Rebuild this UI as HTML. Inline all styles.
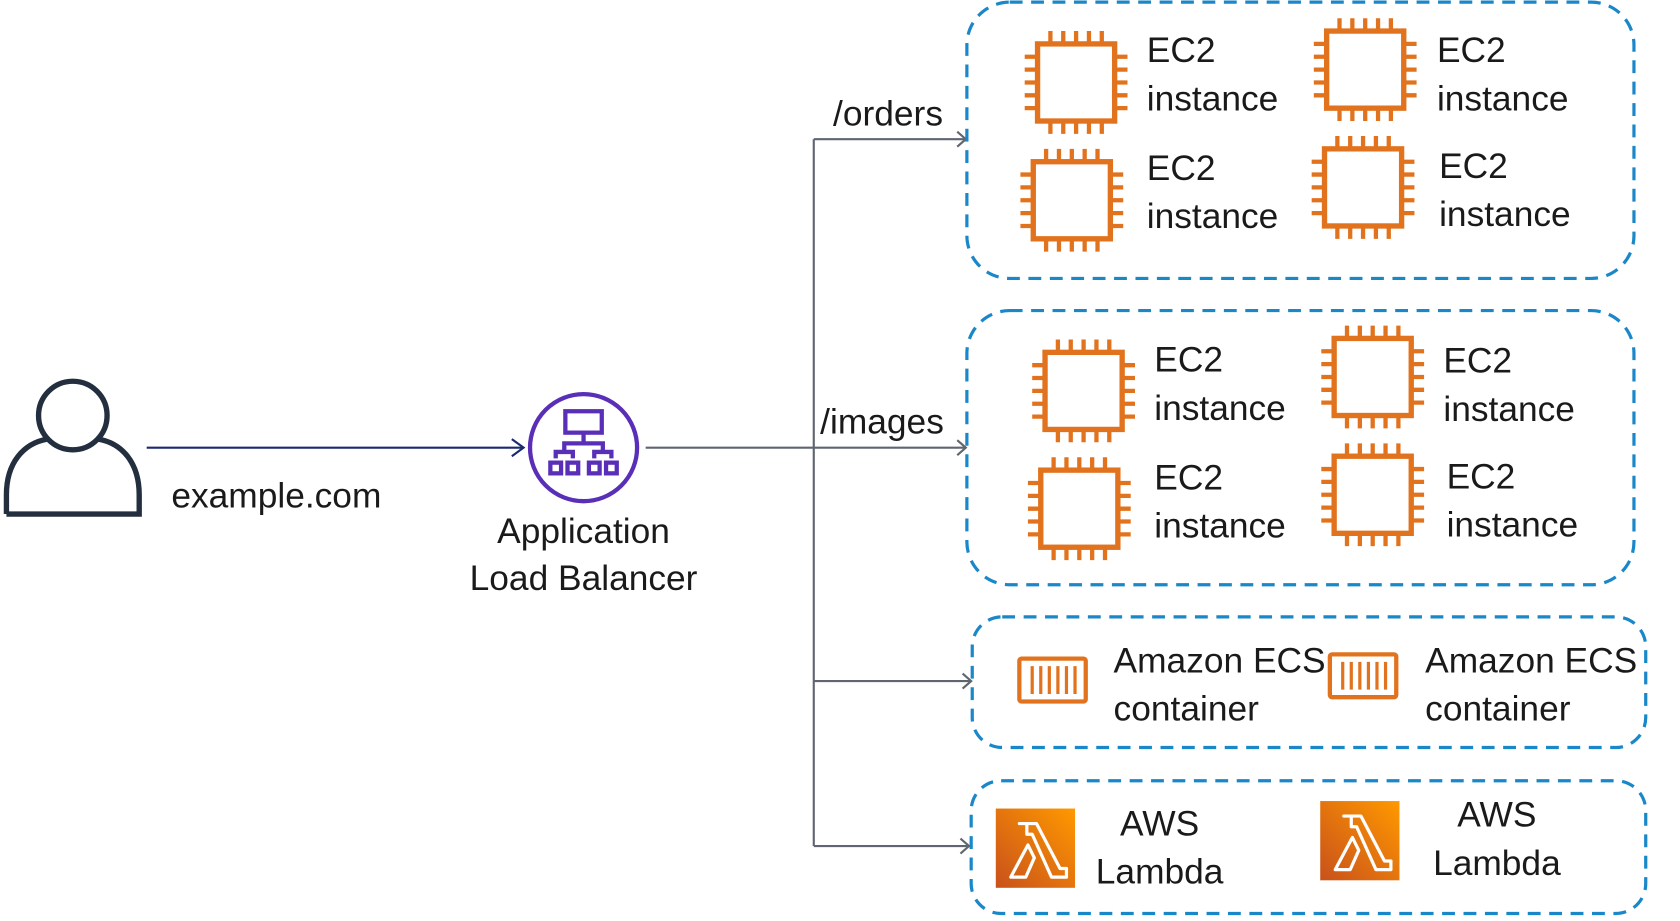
<!DOCTYPE html>
<html><head><meta charset="utf-8"><style>
html,body{margin:0;padding:0;background:#fff;}
svg{display:block}
text{font-family:"Liberation Sans",sans-serif;font-size:33px;fill:#1a1a1a;}
</style></head><body>
<svg width="1680" height="921" viewBox="0 0 1569 860" preserveAspectRatio="none" xmlns="http://www.w3.org/2000/svg">
<defs>
<g id="chip" fill="none" stroke="#e2731e" stroke-width="5">
<rect x="-36" y="-36" width="72" height="72" fill="#fff"/>
<path d="M-24,-37v-11M-12,-37v-11M0,-37v-11M12,-37v-11M24,-37v-11M-24,37v11M-12,37v11M0,37v11M12,37v11M24,37v11M-37,-24h-11M-37,-12h-11M-37,0h-11M-37,12h-11M-37,24h-11M37,-24h11M37,-12h11M37,0h11M37,12h11M37,24h11" stroke-width="4"/>
</g>
<g id="ecs" fill="none" stroke="#e2731e">
<rect x="0" y="0" width="62" height="40" rx="2" stroke-width="4"/>
<path d="M12,7v26M20,7v26M28,7v26M36,7v26M44,7v26M52,7v26" stroke-width="3"/>
</g>
<linearGradient id="lg" x1="0" y1="1" x2="1" y2="0">
<stop offset="0" stop-color="#c8511b"/><stop offset="1" stop-color="#f90"/>
</linearGradient>
<g id="lam">
<rect x="0" y="0" width="74" height="74" fill="url(#lg)"/>
<path d="M22,14h16l22,42h6v8h-14l-18,-40l-5,0v-10zM30,34l6,12l-8,18h-14z" fill="none" stroke="#fff" stroke-width="3" stroke-linejoin="round"/>
</g>
</defs>
<!-- person -->
<circle cx="68" cy="388" r="32" fill="none" stroke="#232f3e" stroke-width="5"/>
<path d="M6,480 V462 C6,432 22,414 44,410 M92,410 C114,414 130,432 130,462 V480 H6" fill="none" stroke="#232f3e" stroke-width="5"/>
<!-- arrow to ALB -->
<line x1="137" y1="418" x2="489" y2="418" stroke="#1a2a6e" stroke-width="2"/>
<path d="M478,410 L489,418 L478,426" fill="none" stroke="#1a2a6e" stroke-width="2"/>
<text x="160" y="474">example.com</text>
<!-- ALB -->
<circle cx="545" cy="418" r="50" fill="#fff" stroke="#5a2fb8" stroke-width="4"/>
<g fill="none" stroke="#5a2fb8" stroke-width="4">
<rect x="528" y="384" width="34" height="20"/>
<path d="M545,404v10M527,422v-8h36v8M519,428v-6h16v6M555,428v-6h16v6"/>
<rect x="514" y="432" width="10" height="10"/><rect x="530" y="432" width="10" height="10"/>
<rect x="550" y="432" width="10" height="10"/><rect x="566" y="432" width="10" height="10"/>
</g>
<text x="545" y="507" text-anchor="middle">Application</text>
<text x="545" y="551" text-anchor="middle">Load Balancer</text>
<!-- connectors -->
<g stroke="#5f6670" stroke-width="2" fill="none">
<path d="M603,418H760M760,130V790M760,130H902M760,418H902M760,636H907M760,790H905"/>
<path d="M894,123l8,7l-8,7M894,411l8,7l-8,7M899,629l8,7l-8,7M897,783l8,7l-8,7"/>
</g>
<text x="778" y="117">/orders</text>
<text x="766" y="405">/images</text>
<!-- boxes -->
<g fill="none" stroke="#1a87c9" stroke-width="3" stroke-dasharray="12 8">
<rect x="903" y="2" width="623" height="258" rx="40"/>
<rect x="903" y="290" width="623" height="256" rx="40"/>
<rect x="908" y="576" width="629" height="122" rx="28"/>
<rect x="907" y="729" width="630" height="124" rx="28"/>
</g>
<use href="#chip" x="1005" y="77"/><use href="#chip" x="1275" y="65"/>
<use href="#chip" x="1001" y="187"/><use href="#chip" x="1273" y="175"/>
<use href="#chip" x="1012" y="365"/><use href="#chip" x="1282" y="352"/>
<use href="#chip" x="1008" y="475"/><use href="#chip" x="1282" y="462"/>
<text x="1071" y="58">EC2</text><text x="1071" y="103">instance</text>
<text x="1342" y="58">EC2</text><text x="1342" y="103">instance</text>
<text x="1071" y="168">EC2</text><text x="1071" y="213">instance</text>
<text x="1344" y="166">EC2</text><text x="1344" y="211">instance</text>
<text x="1078" y="347">EC2</text><text x="1078" y="392">instance</text>
<text x="1348" y="348">EC2</text><text x="1348" y="393">instance</text>
<text x="1078" y="457">EC2</text><text x="1078" y="502">instance</text>
<text x="1351" y="456">EC2</text><text x="1351" y="501">instance</text>
<use href="#ecs" x="952" y="615"/><use href="#ecs" x="1242" y="611"/>
<text x="1040" y="628">Amazon ECS</text><text x="1040" y="673">container</text>
<text x="1331" y="628">Amazon ECS</text><text x="1331" y="673">container</text>
<use href="#lam" x="930" y="755"/><use href="#lam" x="1233" y="748"/>
<text x="1083" y="780" text-anchor="middle">AWS</text><text x="1083" y="825" text-anchor="middle">Lambda</text>
<text x="1398" y="772" text-anchor="middle">AWS</text><text x="1398" y="817" text-anchor="middle">Lambda</text>
</svg>
</body></html>
